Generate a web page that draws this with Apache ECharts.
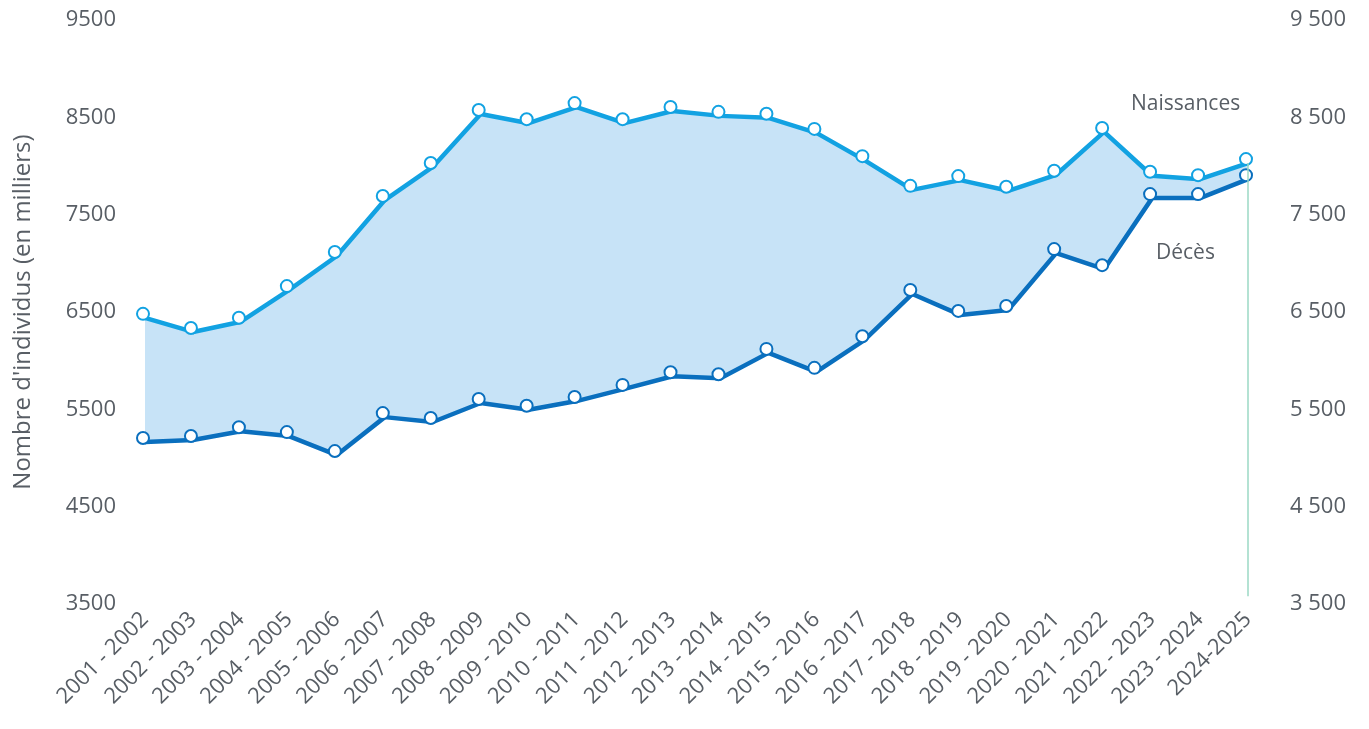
<!DOCTYPE html>
<html>
<head>
<meta charset="utf-8">
<script src="https://cdn.jsdelivr.net/npm/echarts@6/dist/echarts.min.js"></script>
<style>
  html, body { margin: 0; padding: 0; background: #fff; }
  #chart { width: 1369px; height: 729px; }
</style>
</head>
<body>
<div id="chart"></div>
<script>
const years = [
  '2001 - 2002', '2002 - 2003', '2003 - 2004', '2004 - 2005', '2005 - 2006',
  '2006 - 2007', '2007 - 2008', '2008 - 2009', '2009 - 2010', '2010 - 2011',
  '2011 - 2012', '2012 - 2013', '2013 - 2014', '2014 - 2015', '2015 - 2016',
  '2016 - 2017', '2017 - 2018', '2018 - 2019', '2019 - 2020', '2020 - 2021',
  '2021 - 2022', '2022 - 2023', '2023 - 2024', '2024-2025'
];

const naissances = [
  6440, 6295, 6400, 6725, 7075, 7650, 7990, 8535, 8440, 8605,
  8440, 8565, 8515, 8495, 8340, 8060, 7755, 7855, 7745, 7910,
  8350, 7900, 7865, 8030
];

const deces = [
  5165, 5185, 5275, 5225, 5030, 5420, 5370, 5565, 5495, 5585,
  5710, 5840, 5820, 6080, 5885, 6210, 6685, 6470, 6520, 7105,
  6940, 7670, 7670, 7865
];

const yTicks = { min: 3500, max: 9500, interval: 1000 };

const textColor = '#585e65';
const font = '"Open Sans", Lato, sans-serif';

const chart = echarts.init(document.getElementById('chart'));

// la bande entre les deux courbes
const gap = naissances.map((v, i) => v - deces[i]);

chart.setOption({
  animation: false,
  grid: { left: 145, right: 121, top: 20, bottom: 125 },
  xAxis: {
    type: 'category',
    data: years,
    boundaryGap: false,
    axisLine: { show: false },
    axisTick: { show: false },
    axisLabel: {
      rotate: 45,
      interval: 0,
      margin: 12,
      color: textColor,
      fontFamily: font,
      fontSize: 22
    }
  },
  yAxis: [
    {
      type: 'value',
      min: yTicks.min, max: yTicks.max, interval: yTicks.interval,
      name: "Nombre d'individus (en milliers)",
      nameLocation: 'middle',
      nameGap: 110,
      nameTextStyle: { color: textColor, fontFamily: font, fontSize: 24 },
      splitLine: { show: false },
      axisLine: { show: false },
      axisTick: { show: false },
      axisLabel: {
        color: textColor, fontFamily: font, fontSize: 22, margin: 29,
        formatter: v => String(v)
      }
    },
    {
      type: 'value',
      position: 'right',
      min: yTicks.min, max: yTicks.max, interval: yTicks.interval,
      splitLine: { show: false },
      axisLine: { show: false },
      axisTick: { show: false },
      axisLabel: {
        color: textColor, fontFamily: font, fontSize: 22, margin: 42,
        formatter: v => String(v).replace(/\B(?=(\d{3})+(?!\d))/g, ' ')
      }
    }
  ],
  series: [
    {
      name: 'base',
      type: 'line',
      stack: 'band',
      data: deces,
      showSymbol: false,
      lineStyle: { opacity: 0 },
      silent: true
    },
    {
      name: 'Solde naturel',
      type: 'line',
      stack: 'band',
      data: gap,
      showSymbol: false,
      lineStyle: { opacity: 0 },
      areaStyle: { color: '#c7e3f7', opacity: 1 },
      silent: true,
      markLine: {
        symbol: 'none',
        silent: true,
        label: { show: false },
        lineStyle: { color: '#9bd8c4', width: 1.5, type: 'solid' },
        data: [[
          { coord: [years.length - 1, 3580] },
          { coord: [years.length - 1, naissances[naissances.length - 1]] }
        ]]
      }
    },
    {
      name: 'Décès',
      type: 'line',
      data: deces,
      symbol: 'emptyCircle',
      symbolSize: 12,
      symbolOffset: [-2, -4],
      itemStyle: { color: '#0a6fbe', borderWidth: 3 },
      lineStyle: { color: '#0a6fbe', width: 4.5 },
      z: 3
    },
    {
      name: 'Naissances',
      type: 'line',
      data: naissances,
      symbol: 'emptyCircle',
      symbolSize: 12,
      symbolOffset: [-2, -4],
      itemStyle: { color: '#12a2e2', borderWidth: 3 },
      lineStyle: { color: '#12a2e2', width: 4.5 },
      z: 4
    }
  ],
  graphic: [
    { type: 'text', left: 1131, top: 94, style: { text: 'Naissances', fill: textColor, font: '21px ' + font } },
    { type: 'text', left: 580, top: 248, style: { text: 'Solde naturel', fill: textColor, font: '23px ' + font } },
    { type: 'text', left: 1156, top: 243, style: { text: 'Décès', fill: textColor, font: '21px ' + font } }
  ]
});
</script>
</body>
</html>
